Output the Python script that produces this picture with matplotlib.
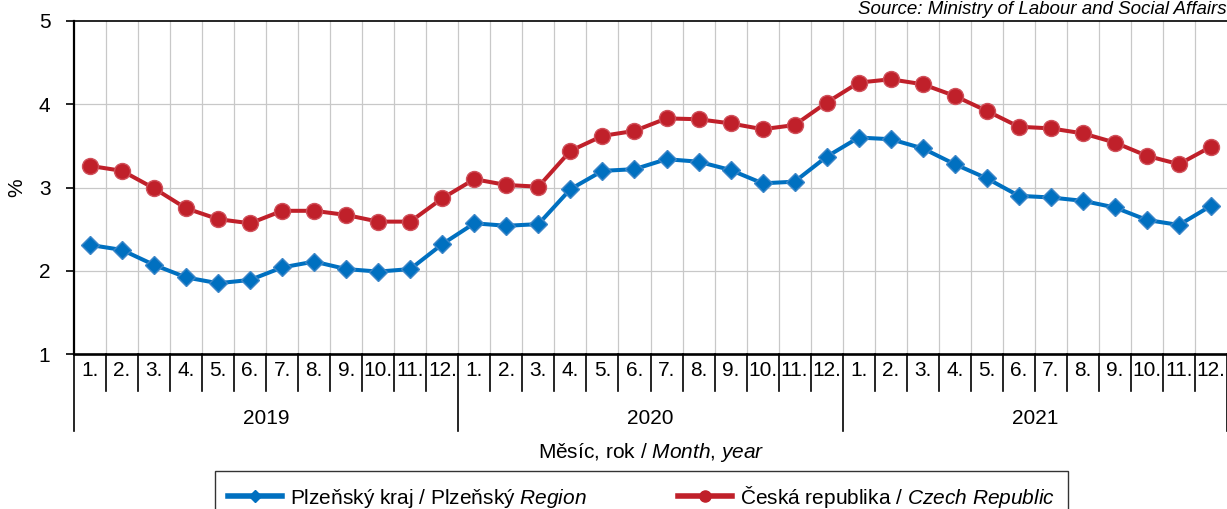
import matplotlib
matplotlib.use("Agg")
import matplotlib.pyplot as plt
from matplotlib.lines import Line2D
from matplotlib.transforms import blended_transform_factory

plt.rcParams['font.family'] = ['Liberation Sans', 'DejaVu Sans']
plt.rcParams['mathtext.fontset'] = 'custom'
plt.rcParams['mathtext.rm'] = 'Liberation Sans'
plt.rcParams['mathtext.it'] = 'Liberation Sans:italic'

# data
years = ['2019', '2020', '2021']
months = ['1.', '2.', '3.', '4.', '5.', '6.', '7.', '8.', '9.', '10.', '11.', '12.']
plzen = [2.31, 2.25, 2.07, 1.92, 1.85, 1.89, 2.04, 2.11, 2.02, 1.99, 2.02, 2.32,
         2.57, 2.54, 2.56, 2.98, 3.20, 3.22, 3.34, 3.31, 3.21, 3.05, 3.07, 3.37,
         3.60, 3.58, 3.47, 3.28, 3.11, 2.90, 2.88, 2.84, 2.76, 2.61, 2.55, 2.78]
cr = [3.26, 3.20, 2.99, 2.75, 2.62, 2.57, 2.72, 2.72, 2.67, 2.59, 2.59, 2.87,
      3.10, 3.03, 3.01, 3.44, 3.62, 3.68, 3.83, 3.82, 3.77, 3.70, 3.75, 4.02,
      4.26, 4.30, 4.24, 4.10, 3.92, 3.73, 3.71, 3.65, 3.54, 3.38, 3.28, 3.49]
label_plzen = 'Plzeňský kraj / Plzeňský $\\it{Region}$'
label_cr = 'Česká republika / $\\it{Czech}$ $\\it{Republic}$'

blue = '#0070C0'
red = '#C0202A'
fs = 15

W, H = 1227, 509
fig = plt.figure(figsize=(W / 100, H / 100), dpi=100)
ax = fig.add_axes([74 / W, 1 - 354 / H, (W - 74) / W, 333 / H])

n = len(plzen)
x = list(range(n))
ax.plot(x, plzen, color=blue, lw=2.9, marker='D', ms=9.5,
        mfc=blue, mec='#3C86C8', mew=1, zorder=3)
ax.plot(x, cr, color=red, lw=2.9, marker='o', ms=11.5,
        mfc=red, mec='#D0505A', mew=1, zorder=3)

ax.set_xlim(-0.5, n - 0.5)
ax.set_ylim(1, 5)
ax.set_yticks([1, 2, 3, 4, 5])
ax.tick_params(axis='y', labelsize=fs, length=6, width=1.2, pad=11, direction='out')
ax.tick_params(axis='x', bottom=False, labelbottom=False)

for k in range(n - 1):
    ax.axvline(k + 0.5, color='#C8C8C8', lw=0.9, zorder=1)
for v in [2, 3, 4]:
    ax.axhline(v, color='#C8C8C8', lw=0.9, zorder=1)

ax.spines['right'].set_visible(False)
ax.spines['left'].set_linewidth(1.6)
ax.spines['bottom'].set_linewidth(1.9)
ax.spines['top'].set_linewidth(1.2)

# category axis below the plot
tr = blended_transform_factory(ax.transData, fig.transFigure)
y_axis = 1 - 354 / H
y_month_end = 1 - 391 / H
y_year_end = 1 - 431 / H
for k in range(n + 1):
    y_end = y_year_end if k % 12 == 0 else y_month_end
    ax.plot([k - 0.5, k - 0.5], [y_axis, y_end], color='black', lw=1.2,
            transform=tr, clip_on=False)
for k in range(n):
    ax.text(k, 1 - 370 / H, months[k % 12], transform=tr, ha='center',
            va='center', fontsize=fs)
for i, yr in enumerate(years):
    ax.text(i * 12 + 5.5, 1 - 418 / H, yr, transform=tr, ha='center',
            va='center', fontsize=fs)

fig.text(651 / W, 1 - 452 / H, 'Měsíc, rok / $\\it{Month}$, $\\it{year}$',
         ha='center', va='center', fontsize=fs)
fig.text(17 / W, 1 - 188 / H, '%', rotation=90, ha='center', va='center', fontsize=fs)
fig.text(0.9995, 1 - 10 / H, 'Source: Ministry of Labour and Social Affairs',
         ha='right', va='center', fontsize=13.5, style='italic')

handles = [Line2D([], [], color=blue, lw=4, marker='D', ms=6, mfc=blue, mec=blue),
           Line2D([], [], color=red, lw=4, marker='o', ms=8, mfc=red, mec=red)]
leg = fig.legend(handles, [label_plzen, label_cr], ncol=2, mode='expand',
                 loc='upper left',
                 bbox_to_anchor=(215 / W, -0.2, (1068 - 215) / W, 0.2 + 1 - 471 / H),
                 borderaxespad=0, fontsize=fs, frameon=True, fancybox=False,
                 edgecolor='black', borderpad=0.6, handlelength=2.6,
                 handletextpad=0.4)
leg.get_frame().set_linewidth(1.0)

fig.savefig('out.png', dpi=100)
